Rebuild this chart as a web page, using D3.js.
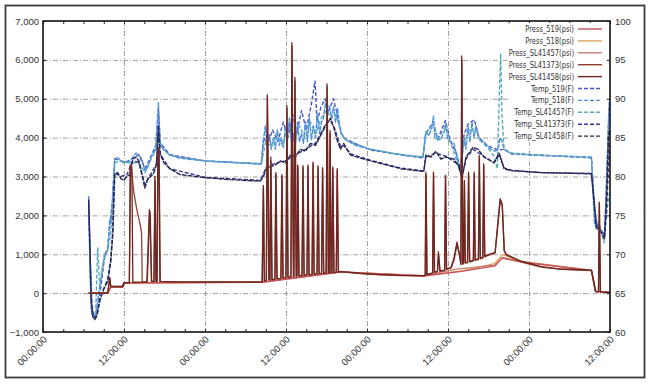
<!DOCTYPE html>
<html>
<head>
<meta charset="utf-8">
<script src="https://cdn.jsdelivr.net/npm/d3@7"></script>
<style>
body { margin: 0; background: #fff; }
svg { display: block; font-family: "Liberation Sans Narrow", "DejaVu Sans Condensed", "Arial Narrow", sans-serif; }
</style>
</head>
<body>
<svg id="chart" width="650" height="384"></svg>
<script>
// time axis (hours from start) and tick labels
var timeTicks = [0, 12, 24, 36, 48, 60, 72, 84];
var timeLabels = ["00:00:00", "12:00:00", "00:00:00", "12:00:00", "00:00:00", "12:00:00", "00:00:00", "12:00:00"];
var pressTicks = [-1000, 0, 1000, 2000, 3000, 4000, 5000, 6000, 7000];
var tempTicks = [60, 65, 70, 75, 80, 85, 90, 95, 100];

// pressure series [hour, psi]
var press519 = [[6.76,0],[9.6,0],[10.05,160],[11.82,160],[11.97,260],[32.49,280],[44.08,540],[56.42,440],[62.0,560],[66.98,700],[68.02,900],[70.85,800],[81.25,580],[81.85,40],[84,20]];
var press518 = [[6.76,0],[9.6,0],[10.05,160],[11.85,160],[12.0,262],[32.5,282],[44.1,548],[56.4,448],[62.0,575],[66.9,760],[68.1,990],[70.85,815],[81.25,588],[81.9,45],[84,20]];
var pressSL41457 = [[6.76,0],[9.6,0],[10.05,170],[11.85,170],[12.0,265],[32.5,285],[44.1,545],[56.4,450],[61.3,620],[66.9,720],[68.1,920],[70.85,810],[81.25,585],[81.9,40],[84,20]];
var pressSL41373 = [[6.76,0],[9.59,0],[9.9,380],[10.05,160],[11.82,160],[11.97,260],[12.8,265],[12.95,3250],[13.1,3200],[13.45,2600],[13.9,2150],[14.35,1800],[14.6,1550],[14.7,290],[15.45,290],[15.8,2100],[16.1,300],[16.45,300],[16.62,2900],[16.78,300],[16.9,300],[17.05,3550],[17.2,3650],[17.38,300],[20.3,285],[32.45,285],
  [32.66,2700],[32.82,320],[33.1,330],[33.26,5000],[33.5,900],[33.62,345],[33.78,3400],[33.95,350],[34.37,360],[34.52,3050],[34.7,370],[35.26,380],[35.42,3000],[35.58,390],[36.0,400],[36.16,4750],[36.32,410],[36.74,410],[36.9,6350],[37.05,2000],[37.14,430],[37.34,5450],[37.55,430],[37.64,440],[37.77,3250],[37.95,440],[38.38,450],[38.54,3230],[38.7,460],[39.12,470],[39.28,3250],[39.44,470],[39.87,480],[40.03,3320],[40.18,490],[40.61,500],[40.77,3230],[40.93,500],[41.28,510],[41.44,3180],[41.6,510],[41.95,520],[42.11,5300],[42.3,520],[42.42,520],[42.55,4100],[42.7,530],[42.81,530],[42.95,3190],[43.12,530],[43.46,535],[43.61,3150],[43.78,540],[44.1,555],[44.83,540],[47.06,505],[50.03,470],[53,450],[56.42,445],
  [56.64,450],[56.75,3050],[56.9,470],[57.74,510],[57.87,3050],[58.02,530],[58.45,550],[58.6,1000],[58.82,560],[59.52,580],[59.65,2980],[59.8,610],[60.44,640],[60.9,850],[61.35,1250],[61.72,950],[61.92,730],[62.06,6000],[62.2,740],[62.32,760],[62.45,2800],[62.58,770],[62.91,780],[63.07,3050],[63.22,800],[63.77,830],[63.9,3050],[64.04,840],[64.52,860],[64.66,3480],[64.8,880],[65.17,900],[65.31,3280],[65.46,930],[66.09,980],[66.98,1030],[67.45,1850],[67.75,2380],[68.05,2250],[68.35,1080],[68.62,980],[70.85,800],[73.82,670],[76.79,610],[81.25,580],[81.85,45],[82.3,35],[82.43,2300],[82.6,30],[84,20]];
var pressSL41458 = [[6.76,0],[9.59,0],[9.89,400],[10.04,170],[11.82,170],[11.97,270],[12.79,270],[12.93,3300],[13.16,3250],[13.31,280],[15.39,290],[15.76,2150],[15.9,2000],[16.06,300],[16.43,300],[16.58,3000],[16.73,300],[16.87,300],[17.02,3600],[17.17,3750],[17.32,300],[20.3,290],[32.4,285],
  [32.49,290],[32.64,2770],[32.78,320],[33.08,330],[33.23,5100],[33.45,340],[33.6,345],[33.75,3500],[33.9,350],[34.35,360],[34.49,3100],[34.64,370],[35.24,380],[35.39,3050],[35.53,390],[35.98,400],[36.13,4820],[36.28,410],[36.72,410],[36.87,6440],[37.09,420],[37.18,430],[37.32,5550],[37.5,430],[37.62,440],[37.74,3300],[37.91,440],[38.36,450],[38.51,3280],[38.66,460],[39.1,470],[39.25,3300],[39.4,470],[39.85,480],[40.0,3370],[40.14,490],[40.59,500],[40.74,3280],[40.89,500],[41.26,510],[41.41,3230],[41.56,510],[41.93,520],[42.08,5380],[42.25,520],[42.4,520],[42.52,4180],[42.67,530],[42.79,530],[42.92,3240],[43.09,530],[43.44,535],[43.58,3200],[43.74,540],[44.08,560],[44.83,545],[47.06,510],[50.03,475],[53.0,455],[56.42,450],
  [56.62,455],[56.72,3110],[56.87,480],[57.72,520],[57.84,3110],[57.98,540],[58.43,560],[58.58,1060],[58.8,570],[59.5,590],[59.62,3030],[59.77,620],[60.44,660],[60.88,900],[61.33,1310],[61.7,1000],[61.9,750],[62.03,6100],[62.18,760],[62.3,780],[62.42,2900],[62.55,790],[62.89,800],[63.04,3110],[63.19,820],[63.75,850],[63.87,3110],[64.01,860],[64.5,880],[64.63,3540],[64.78,900],[65.15,920],[65.28,3330],[65.43,950],[66.09,1000],[66.98,1050],[67.43,1900],[67.72,2430],[68.02,2300],[68.32,1100],[68.62,1000],[70.85,820],[73.82,680],[76.79,620],[81.25,590],[81.85,50],[82.29,40],[82.41,2340],[82.56,30],[84,20]];

// temperature series [hour, degF]
var temp519 = [[6.76,77.3],[6.95,70],[7.2,62.5],[7.6,61.8],[8.1,63],[8.6,66],[9.1,69.5],[9.6,70.8],[9.9,74],[10.33,77],[10.63,82.3],[11.5,82],[12.4,81.9],[13.3,82.4],[14.2,82.8],[15.1,81],[15.9,82.4],[16.7,84],[17.1,88.5],[17.4,84.3],[18.8,82.8],[24,82],[32.34,81.6],[32.7,85],[33.3,84],[34.0,86],[34.8,84.5],[35.6,87],[36.3,85],[37.0,88],[37.6,85.5],[38.3,88.5],[39.0,86],[39.7,89],[40.3,92.3],[40.6,87],[41.2,89],[41.8,90],[42.4,88.5],[43.0,90],[43.6,88],[44.2,85.5],[44.8,84.8],[48.5,83.4],[53.7,82.7],[56.3,82.4],[56.7,85.5],[57.8,87],[58.5,84.8],[59.6,87.2],[60.4,84.5],[61.3,82.8],[61.8,81],[62.4,85.5],[63.0,86.8],[63.9,87.3],[64.6,85],[65.8,84],[67.4,83.4],[68.3,83.5],[69.4,82.9],[76.8,82.6],[81.25,82.4],[81.8,74],[82.4,73.5],[82.8,73],[83.2,72.3],[83.6,82],[83.93,90]];
var temp518 = [[6.76,77.5],[6.84,73.5],[6.99,67],[7.21,62.5],[7.51,62],[7.81,62.1],[8.1,64],[8.4,65.75],[8.85,68.5],[9.29,70.25],[9.59,70.5],[9.89,74.5],[10.11,74],[10.33,78],[10.63,82.25],[11.07,82.5],[11.52,82],[11.97,81.75],[12.42,82],[12.86,81.75],[13.31,82.5],[13.75,83],[14.2,82.75],[14.65,82.25],[15.09,80.75],[15.54,81.25],[15.98,82.5],[16.43,83],[16.73,84],[17.1,89.5],[17.32,84.5],[17.77,83.5],[18.81,82.75],[20.29,82.35],[24.01,82],[27.73,81.85],[32.34,81.65],
  [32.64,84.5],[32.93,86.5],[33.23,84],[33.53,85.5],[33.82,83.5],[34.12,85],[34.42,83.5],[34.72,86],[35.01,84],[35.31,85],[35.61,83.75],[35.91,86.5],[36.2,84.5],[36.5,87.5],[36.8,84.5],[37.09,85.5],[37.39,84],[37.69,87],[37.99,84.5],[38.29,85.5],[38.58,84.25],[38.88,87],[39.18,84.5],[39.47,87.5],[39.77,84.75],[40.07,86.5],[40.37,85],[40.66,88],[40.96,85.5],[41.26,87],[41.55,87.5],[41.85,89.5],[42.15,88],[42.45,89],[42.74,87.5],[43.04,89],[43.34,87],[43.64,88.75],[43.93,86.5],[44.23,85.5],[44.83,84.75],[46.32,84],[48.55,83.5],[51.52,83],[53.75,82.75],[56.28,82.5],
  [56.72,85.75],[57.17,85.25],[57.61,86.25],[57.84,87.75],[58.06,85],[58.51,84.75],[58.95,84.75],[59.55,86],[59.69,87],[59.92,84.75],[60.44,84.5],[60.88,84.25],[61.33,82.5],[61.77,80.75],[62.07,82.5],[62.36,85],[62.66,83.5],[62.96,86.5],[63.25,84.5],[63.55,87],[63.85,85],[64.15,86.5],[64.59,84.75],[65.19,84.5],[65.78,84],[66.38,83.5],[66.98,83.25],[67.42,83.5],[67.72,85],[68.02,84.5],[68.32,83.5],[69.36,83],[72.33,82.75],[76.79,82.65],[81.25,82.5],[81.7,74],[81.99,73.25],[82.29,74],[82.74,72.75],[83.18,72],[83.48,79],[83.78,87.5],[83.93,89.5]];
var tempSL41457 = [[6.9,72],[7.1,66],[7.4,62.5],[7.8,62.2],[8.1,70.8],[8.4,66],[8.7,67.5],[9.1,70],[9.6,70.6],[10.0,72.5],[10.33,76],[10.63,81.8],[11.5,82],[12.4,81.8],[13.3,81.8],[14.2,81.7],[15.1,80.5],[15.9,82],[16.7,83.5],[17.1,86],[17.4,84],[18.8,82.7],[24,82],[32.34,81.6],[33.0,84.5],[33.8,83.8],[34.6,85.5],[35.5,84],[36.4,86.5],[37.2,84.5],[38.0,86.5],[38.8,85],[39.6,87],[40.4,85.5],[41.2,87.5],[42.0,88.5],[42.7,87.5],[43.4,88],[44.2,85.5],[44.8,84.7],[48.5,83.5],[53.7,82.7],[56.3,82.5],[56.7,85.5],[57.8,86.8],[58.5,84.7],[59.6,86.5],[60.4,84.3],[61.3,82],[61.8,80.5],[62.4,84.5],[63.2,86],[64.1,86],[64.9,84.5],[65.8,83.8],[66.9,82.5],[67.3,81],[67.65,92],[67.8,95.8],[68.0,88],[68.3,83.5],[69.4,83],[76.8,82.6],[81.25,82.4],[81.8,74.5],[82.6,73.5],[83.1,71.5],[83.6,76],[83.93,78]];
var tempSL41373 = [[6.76,76.5],[6.95,71],[7.2,63.5],[7.6,61.8],[8.0,62.2],[8.5,64.5],[9.1,65.8],[9.6,66.8],[10.04,69.5],[10.33,73],[10.63,80.5],[11.5,80],[12.4,80.2],[13.3,82],[14.2,81.8],[15.1,79],[15.9,80.2],[16.8,81.6],[17.1,85.8],[17.4,82.8],[18.8,81],[24,79.9],[32.19,79.5],[33.1,81.2],[34.4,81.7],[35.9,82],[37.4,82.8],[38.9,83.5],[40.4,84.3],[41.9,86.8],[42.6,87.2],[43.2,86.2],[44.1,83.8],[44.5,84],[45.6,82.9],[48.5,82.1],[53,81.1],[56.42,80.7],[56.72,82.5],[58.2,83],[59.7,82.6],[61.6,81.5],[62.07,80],[62.7,82.3],[63.7,83.5],[65.3,82.6],[66.8,81.8],[67.6,82.8],[68.3,81.1],[69.4,80.8],[73.8,80.5],[81.25,80.4],[82,73.8],[82.7,73],[83.2,72.5],[83.5,76],[83.93,84]];
var tempSL41458 = [[6.76,77],[6.91,72.5],[7.14,64],[7.36,62],[7.66,61.6],[7.96,62],[8.4,64],[8.99,65.5],[9.59,66.5],[10.04,69],[10.33,72.5],[10.63,80.25],[11.07,80.5],[11.52,79.75],[11.97,79.5],[12.42,80],[12.86,80.25],[13.31,82.25],[13.75,82.5],[14.2,82],[14.65,80.25],[15.09,78.5],[15.54,79.75],[15.98,80],[16.43,80.5],[16.8,81.5],[17.1,86.5],[17.32,83],[17.92,81.75],[18.81,81],[20.29,80.25],[24.01,79.85],[27.73,79.6],[32.19,79.4],
  [32.64,80],[33.08,81],[33.67,81.25],[34.42,81.5],[35.16,82],[35.91,81.75],[36.65,82.75],[37.39,82.5],[38.14,83.5],[38.88,83.25],[39.62,84.25],[40.37,84],[41.11,85.25],[41.85,86.5],[42.6,87.5],[43.19,86],[43.64,84.5],[44.08,83.5],[44.53,84.25],[45.57,82.75],[48.55,82],[53.0,81],[56.42,80.65],
  [56.72,82.75],[57.46,82.5],[58.21,83.25],[58.95,82.25],[59.69,82.5],[60.88,82.25],[61.62,81.25],[62.07,79.75],[62.66,82.5],[63.7,83.75],[64.45,83.5],[65.34,82.5],[66.83,81.75],[67.57,83],[68.32,81],[69.36,80.75],[73.82,80.5],[81.25,80.35],[81.99,73.5],[82.74,72.75],[83.18,72],[83.48,77],[83.78,85],[83.93,86]];

var series = [
  { name: "Press_519(psi)", data: press519, axis: "p", color: "#c9505a", dash: null },
  { name: "Press_518(psi)", data: press518, axis: "p", color: "#d9a55e", dash: null },
  { name: "Press_SL41457(psi)", data: pressSL41457, axis: "p", color: "#c97c74", dash: null },
  { name: "Press_SL41373(psi)", data: pressSL41373, axis: "p", color: "#94402f", dash: null },
  { name: "Press_SL41458(psi)", data: pressSL41458, axis: "p", color: "#6e2622", dash: null },
  { name: "Temp_519(F)", data: temp519, axis: "t", color: "#4b55c8", dash: "4,2" },
  { name: "Temp_518(F)", data: temp518, axis: "t", color: "#4f8fe0", dash: "5,1" },
  { name: "Temp_SL41457(F)", data: tempSL41457, axis: "t", color: "#58a8b6", dash: "4,2" },
  { name: "Temp_SL41373(F)", data: tempSL41373, axis: "t", color: "#35388a", dash: "4,2" },
  { name: "Temp_SL41458(F)", data: tempSL41458, axis: "t", color: "#24264e", dash: "5,1" }
];

var svg = d3.select("#chart");
var plotLeft = 43, plotRight = 610, plotTop = 21, plotBottom = 332;

var x = d3.scaleLinear().domain([0, 84]).range([plotLeft, plotRight]);
var yP = d3.scaleLinear().domain([-1000, 7000]).range([plotBottom, plotTop]);
var yT = d3.scaleLinear().domain([60, 100]).range([plotBottom, plotTop]);

// outer frame
svg.append("rect")
    .attr("x", 5.5).attr("y", 5.5)
    .attr("width", 639).attr("height", 372)
    .attr("fill", "#fff")
    .attr("stroke", "#3a3a3a")
    .attr("stroke-width", 1.8);

svg.append("defs").append("clipPath").attr("id", "plotclip")
  .append("rect")
    .attr("x", plotLeft).attr("y", plotTop)
    .attr("width", plotRight - plotLeft).attr("height", plotBottom - plotTop);

// grid lines (dash-dot)
var grid = svg.append("g").attr("stroke", "#8a8a8a").attr("stroke-width", 0.8).attr("stroke-dasharray", "5,2,1,2");
grid.selectAll("line.h")
    .data(pressTicks.slice(1, -1))
  .enter().append("line")
    .attr("class", "h")
    .attr("x1", plotLeft).attr("x2", plotRight)
    .attr("y1", function(d) { return yP(d) + 0.5; })
    .attr("y2", function(d) { return yP(d) + 0.5; });
grid.selectAll("line.v")
    .data(timeTicks.slice(1, -1))
  .enter().append("line")
    .attr("class", "v")
    .attr("y1", plotTop).attr("y2", plotBottom)
    .attr("x1", function(d) { return x(d) + 0.5; })
    .attr("x2", function(d) { return x(d) + 0.5; });

// lines
var plot = svg.append("g").attr("clip-path", "url(#plotclip)");
var line = function(s) {
    var yy = s.axis == "p" ? yP : yT;
    return d3.line()
        .x(function(d) { return x(d[0]); })
        .y(function(d) { return yy(d[1]); })(s.data);
};
// temperatures underneath, then pressures; red 519 base kept visible over 518/SL41457
var drawOrder = [series[5], series[6], series[7], series[8], series[9], series[1], series[2], series[0], series[3], series[4]];
plot.selectAll("path")
    .data(drawOrder)
  .enter().append("path")
    .attr("d", line)
    .attr("fill", "none")
    .attr("stroke", function(s) { return s.color; })
    .attr("stroke-width", function(s) { return s.axis == "p" ? 1.3 : 1.4; })
    .attr("stroke-linejoin", "round")
    .attr("stroke-dasharray", function(s) { return s.dash; });

// axes
var minorTicks = d3.range(0, 85, 3);
var axisStyle = function(g) {
    g.select(".domain").remove();
    g.selectAll("line").attr("stroke", "#222");
    g.selectAll("text").attr("fill", "#333").style("font-size", "9.5px");
};

svg.append("g")
    .attr("transform", "translate(0," + plotBottom + ")")
    .call(d3.axisBottom(x).tickValues(minorTicks).tickSizeInner(-3).tickSizeOuter(0).tickFormat(""))
    .call(axisStyle);
svg.append("g")
    .attr("transform", "translate(0," + plotTop + ")")
    .call(d3.axisTop(x).tickValues(minorTicks).tickSizeInner(-3).tickSizeOuter(0).tickFormat(""))
    .call(axisStyle);

var xAxis = svg.append("g")
    .attr("transform", "translate(0," + plotBottom + ")")
    .call(d3.axisBottom(x).tickValues(timeTicks).tickSize(0).tickFormat(function(d, i) { return timeLabels[i]; }))
    .call(axisStyle);
xAxis.selectAll("text")
    .attr("text-anchor", "end")
    .attr("dy", null)
    .attr("transform", "translate(4,8) rotate(-45)")
    .attr("y", 0).attr("x", 0);

svg.append("g")
    .attr("transform", "translate(" + plotLeft + ",0)")
    .call(d3.axisLeft(yP).tickValues(pressTicks).tickSizeInner(-3).tickSizeOuter(0).tickPadding(4).tickFormat(d3.format(",")))
    .call(axisStyle);

svg.append("g")
    .attr("transform", "translate(" + plotRight + ",0)")
    .call(d3.axisRight(yT).tickValues(tempTicks).tickSizeInner(-3).tickSizeOuter(0).tickPadding(5))
    .call(axisStyle);

// plot border
svg.append("rect")
    .attr("x", plotLeft).attr("y", plotTop)
    .attr("width", plotRight - plotLeft).attr("height", plotBottom - plotTop)
    .attr("fill", "none")
    .attr("stroke", "#111")
    .attr("stroke-width", 1.6);

// legend
var legend = svg.append("g");
legend.append("rect")
    .attr("x", 509).attr("y", 23)
    .attr("width", 98).attr("height", 119)
    .attr("fill", "#fff");
var item = legend.selectAll("g.item")
    .data(series)
  .enter().append("g")
    .attr("class", "item")
    .attr("transform", function(s, i) { return "translate(0," + (29 + i * 11.9) + ")"; });
item.append("text")
    .attr("transform", "translate(574,3) scale(0.85,1)")
    .attr("text-anchor", "end")
    .attr("fill", "#333")
    .style("font-size", "8.8px")
    .text(function(s) { return s.name; });
item.append("line")
    .attr("x1", 578).attr("x2", 602)
    .attr("stroke", function(s) { return s.color; })
    .attr("stroke-width", 1.4)
    .attr("stroke-dasharray", function(s) { return s.dash ? "4,2" : null; });
</script>
</body>
</html>
